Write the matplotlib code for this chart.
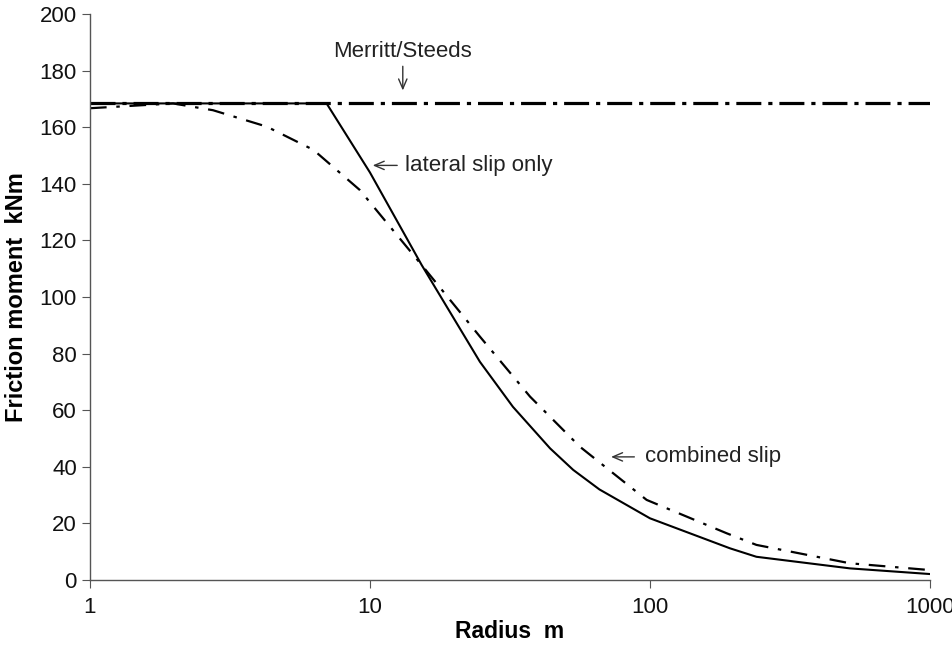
import matplotlib
matplotlib.use("Agg")
import matplotlib.pyplot as plt

plt.rcParams['font.family'] = ['Liberation Sans', 'DejaVu Sans']
plt.rcParams['lines.scale_dashes'] = False

# Merritt/Steeds constant moment
merritt_x = [1, 1000]
merritt_y = [168.4, 168.4]

# lateral slip only
lateral_x = [1, 7.0, 10, 15.3, 24.7, 32.4, 44, 53.2, 66, 100, 193, 240, 518, 1000]
lateral_y = [168.4, 168.4, 144, 111.3, 77.1, 61.2, 46.5, 38.9, 32, 21.8, 11.2, 8.2, 4.1, 2.1]

# combined slip
combined_x = [1, 1.98, 2.75, 4.28, 6.28, 9.2, 15.3, 24.7, 37.3, 56.2, 97.3, 188, 240, 518, 1000]
combined_y = [166.7, 168.4, 166, 160.2, 152, 137.8, 111.3, 86, 64.8, 47.1, 28.3, 16.5, 12.4, 5.9, 3.5]

fig = plt.figure(figsize=(9.53, 6.45), dpi=100)
ax = fig.add_axes([0.0944, 0.1008, 0.8814, 0.8775])

ax.plot(lateral_x, lateral_y, color='black', lw=1.5)
ax.plot(combined_x, combined_y, color='black', lw=1.6,
        linestyle=(0, (12, 7, 2.5, 7)))
ax.plot(merritt_x, merritt_y, color='black', lw=2.3,
        linestyle=(0, (18, 5, 3, 5)))

ax.set_xscale('log')
ax.set_xlim(1, 1000)
ax.set_ylim(0, 200)
ax.set_yticks(range(0, 201, 20))
ax.set_xticks([1, 10, 100, 1000])
ax.set_xticklabels(['1', '10', '100', '1000'])
ax.minorticks_off()

for s in ['top', 'right']:
    ax.spines[s].set_visible(False)
for s in ['left', 'bottom']:
    ax.spines[s].set_color('#555555')
    ax.spines[s].set_linewidth(1.0)
ax.tick_params(direction='out', length=6, color='#555555', labelsize=16,
               labelcolor='#111111')
ax.tick_params(axis='x', pad=6)

ax.set_xlabel('Radius  m', fontsize=16.5, fontweight='bold', labelpad=2)
ax.set_ylabel('Friction moment  kNm', fontsize=17, fontweight='bold', labelpad=8)

arrow = dict(arrowstyle='->,head_length=0.7,head_width=0.3', color='#333333', lw=1.0)
ax.annotate('', xy=(13.1, 172), xytext=(13.1, 182.5), arrowprops=arrow)
ax.text(13.1, 186.6, 'Merritt/Steeds', ha='center', va='center', fontsize=16,
        color='#222222')

ax.annotate('', xy=(10.0, 146.5), xytext=(12.8, 146.5), arrowprops=arrow)
ax.text(13.3, 146.5, 'lateral slip only', ha='left', va='center', fontsize=16,
        color='#222222')

ax.annotate('', xy=(71, 43.5), xytext=(90, 43.5), arrowprops=arrow)
ax.text(96, 43.5, 'combined slip', ha='left', va='center', fontsize=16,
        color='#222222')

fig.savefig('out.png', dpi=100)
